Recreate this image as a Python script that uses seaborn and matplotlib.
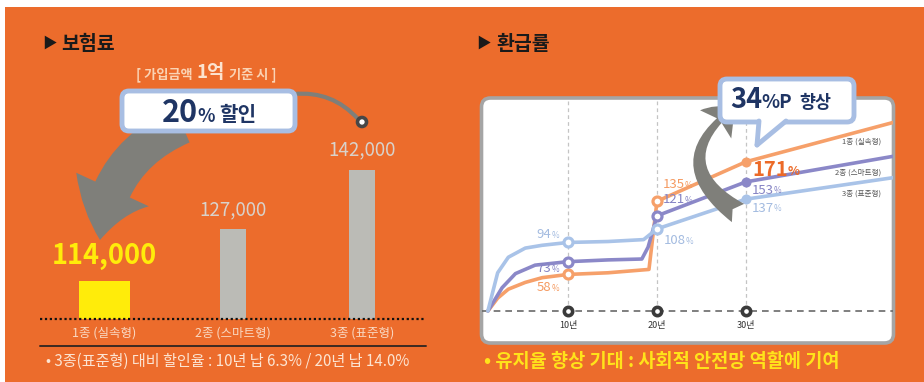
import matplotlib
matplotlib.use("Agg")
import matplotlib.pyplot as plt
from matplotlib.patches import FancyBboxPatch, FancyArrowPatch, Circle, Polygon, Rectangle
from matplotlib.lines import Line2D
from matplotlib.transforms import Affine2D
import numpy as np
import pandas as pd
import seaborn as sns

W, H = 924, 382

# ---- premium (보험료) ----
plan_names = ["1종 (실속형)", "2종 (스마트형)", "3종 (표준형)"]
premiums = [114000, 127000, 142000]

# ---- refund rate (환급률, %) by elapsed years ----
years_basic = [1.0, 2.1, 3.3, 5.2, 7.1, 10, 14.5, 19.1, 20, 30, 46.7]
refund_basic = [0, 26, 39, 48, 54, 58, 60, 64, 135, 171, 205]
years_smart = [1.0, 1.8, 2.6, 4.1, 6.3, 10, 14.5, 18.3, 19.0, 20, 30, 46.7]
refund_smart = [0, 24, 41, 59, 69, 73, 75, 76, 89, 121, 153, 176]
years_std = [1.0, 2.1, 3.3, 5.2, 7.1, 10, 14.5, 18.5, 20, 30, 46.7]
refund_std = [0, 60, 78, 88, 91, 94, 95, 97, 108, 137, 157]
marked_years = [10, 20, 30]
year_labels = ["10년", "20년", "30년"]

BG = "#EC6C2C"
YELLOW = "#FFEC0A"
BAR_GRAY = "#BBBBB6"
LINE_COLORS = ["#F6A06A", "#8B88C8", "#A9C3E8"]
LABEL_COLORS = ["#F59B62", "#8583C4", "#A3BBE0"]
NAVY = "#1F3564"
CALLOUT_EDGE = "#A8BEE3"
ARROW_GRAY = "#7F7F7A"

sns.set_theme(style="white")
plt.rcParams["font.family"] = ["Noto Sans CJK KR", "DejaVu Sans"]

fig = plt.figure(figsize=(W / 100, H / 100), dpi=100)
fig.patch.set_facecolor("white")
# pixel coordinates, origin at top-left
px = Affine2D().scale(1 / W, -1 / H).translate(0, 1) + fig.transFigure


def add(artist, z):
    artist.set_zorder(z)
    fig.add_artist(artist)
    return artist


def ftext(x, y, s, **kw):
    return fig.text(x, y, s, transform=px, **kw)


def axes_px(x0, y0, x1, y1):
    return fig.add_axes([x0 / W, 1 - y1 / H, (x1 - x0) / W, (y1 - y0) / H])


add(Rectangle((5, 7), W - 5, H - 7, transform=px, fc=BG, ec="none"), -10)

# ================= left panel: premiums =================
ftext(42, 44, "▶", fontsize=10.5, color="#1A1A1A", va="center")
ftext(61, 44, "보험료", fontsize=14, fontweight="bold", color="#1A1A1A", va="center")

ftext(193, 78, "[ 가입금액", fontsize=9.5, fontweight="bold", color="#FAD3B4", ha="right", va="baseline")
ftext(196, 78, "1억", fontsize=13.5, fontweight="bold", color="#FCE3CF", ha="left", va="baseline")
ftext(229, 78, "기준 시 ]", fontsize=9.5, fontweight="bold", color="#FAD3B4", ha="left", va="baseline")

axL = axes_px(40, 150, 426, 319)
axL.set_facecolor("none")
px_per_won = 3.98 / 1000
y_floor = 104500
prem_df = pd.DataFrame({"plan": plan_names, "premium": premiums})
sns.barplot(data=prem_df, x="plan", y="premium", hue="plan", order=plan_names,
            hue_order=plan_names, palette=[YELLOW, BAR_GRAY, BAR_GRAY],
            width=0.2, saturation=1, legend=False, ax=axL)
for bar in axL.patches:
    if abs(bar.get_height() - premiums[0]) < 1:
        cx = bar.get_x() + bar.get_width() / 2
        bar.set_width(0.4)
        bar.set_x(cx - 0.2)
    bar.set_edgecolor("none")
axL.set_xlim(-0.5, 2.5)
axL.set_ylim(y_floor, y_floor + (319 - 150) / px_per_won)
axL.axis("off")
axL.axhline(y_floor, color="#111111", lw=1.6, ls=(0, (1, 1.2)), clip_on=False)

for i, (name, v) in enumerate(zip(plan_names, premiums)):
    if i == 0:
        axL.annotate(f"{v:,}", (i, v), xytext=(0, 18), textcoords="offset points",
                     ha="center", va="center", fontsize=19.5, fontweight="bold",
                     color=YELLOW, annotation_clip=False)
    else:
        axL.annotate(f"{v:,}", (i, v), xytext=(0, 14.5), textcoords="offset points",
                     ha="center", va="center", fontsize=13.5, color="#D9D2CB",
                     annotation_clip=False)
    axL.annotate(name, (i, y_floor), xytext=(0, -10), textcoords="offset points",
                 ha="center", va="center", fontsize=9, color="#F9D8C2",
                 annotation_clip=False)

add(Line2D([40, 426], [346, 346], transform=px, color="#3A2A22", lw=1.4), 3)
ftext(46, 366, "• 3종(표준형) 대비 할인율 : 10년 납 6.3% / 20년 납 14.0%",
      fontsize=10.9, color="#FCE4D2", va="baseline")

# discount callout and arrow
add(FancyArrowPatch(posA=(182, 125), posB=(100, 240), transform=px,
                    arrowstyle="simple,head_length=52,head_width=80,tail_width=38",
                    connectionstyle="arc3,rad=0.3", mutation_scale=0.72,
                    shrinkA=0, shrinkB=0, fc=ARROW_GRAY, ec="none"), 5)
add(FancyArrowPatch(posA=(294, 94), posB=(358, 119), transform=px, arrowstyle="-",
                    connectionstyle="arc3,rad=-0.25", shrinkA=0, shrinkB=0,
                    color=ARROW_GRAY, lw=3), 5)
add(Circle((362, 122), 4.5, transform=px, fc="white", ec="#474747", lw=2.6), 6)
add(FancyBboxPatch((122, 91), 173, 40, boxstyle="round,pad=0,rounding_size=7",
                   transform=px, fc="white", ec=CALLOUT_EDGE, lw=3.5), 6)
ftext(198, 122, "20", fontsize=22, fontweight="heavy", color=NAVY, ha="right", va="baseline", zorder=7)
ftext(197, 122, "%", fontsize=13, fontweight="bold", color=NAVY, ha="left", va="baseline", zorder=7)
ftext(219, 121, "할인", fontsize=14.5, fontweight="bold", color=NAVY, ha="left", va="baseline", zorder=7)

# ================= right panel: refund rate =================
ftext(476, 44, "▶", fontsize=10.5, color="#1A1A1A", va="center")
ftext(496, 44, "환급률", fontsize=14, fontweight="bold", color="#1A1A1A", va="center")

add(FancyBboxPatch((481.5, 98), 412, 245, boxstyle="round,pad=0,rounding_size=9",
                   transform=px, fc="white", ec="#A5A5A5", lw=2.6), -5)

axR = axes_px(482, 99, 893, 342)
axR.set_facecolor("none")
refund_df = pd.concat([
    pd.DataFrame({"plan": plan_names[0], "year": years_basic, "rate": refund_basic}),
    pd.DataFrame({"plan": plan_names[1], "year": years_smart, "rate": refund_smart}),
    pd.DataFrame({"plan": plan_names[2], "year": years_std, "rate": refund_std}),
], ignore_index=True)


def power_fwd(v):
    v = np.asarray(v, dtype=float)
    return np.sign(v) * np.abs(v) ** 1.3


def power_inv(u):
    u = np.asarray(u, dtype=float)
    return np.sign(u) * np.abs(u) ** (1 / 1.3)


sns.lineplot(data=refund_df, x="year", y="rate", hue="plan", hue_order=plan_names,
             palette=LINE_COLORS, linewidth=2.6, estimator=None, sort=False,
             legend=False, ax=axR, zorder=2)
axR.set_yscale("function", functions=(power_fwd, power_inv))
X_LIM = (0.34, 46.52)
Y_LIM = (-51, 224)
axR.set_xlim(*X_LIM)
axR.set_ylim(*Y_LIM)
axR.axis("off")

axR.vlines(marked_years, 0, Y_LIM[1], color="#C4C4C4", lw=0.9, ls=(0, (3, 2.5)), zorder=1)
axR.axhline(0, color="#6A6A6A", lw=1.2, ls=(0, (4, 3)), zorder=1)

axR.scatter(marked_years, [0] * 3, s=36, fc="white", ec="#3A3A3A", lw=2.6, zorder=4,
            clip_on=False)
for yr, lab in zip(marked_years, year_labels):
    axR.annotate(lab, (yr, 0), xytext=(0, -10.5), textcoords="offset points",
                 ha="center", va="center", fontsize=6.5, color="#333333")

series = [(years_basic, refund_basic), (years_smart, refund_smart), (years_std, refund_std)]
# label offsets (points) next to the 10/20/30-year markers
label_offsets = [
    {10: (-6.5, -8.6, "right"), 20: (4, 12, "left"), 30: (4.3, -5.6, "left")},
    {10: (-6.5, -4.3, "right"), 20: (4, 11.5, "left"), 30: (4.3, -6.0, "left")},
    {10: (-6.5, 6.5, "right"), 20: (5, -8.6, "left"), 30: (4.3, -6.5, "left")},
]
end_offsets = [(-9.4, -14.4), (-9.4, -12.2), (-9.4, -11.5)]


def pct_label(ax, x, y, value, dx, dy, ha, color, size, weight="normal"):
    if ha == "left":
        num = ax.annotate(f"{value}", (x, y), xytext=(dx, dy), textcoords="offset points",
                          ha="left", va="center", fontsize=size, color=color,
                          fontweight=weight, zorder=6)
        ax.annotate("%", (1, 0.12), xycoords=num, ha="left", va="bottom",
                    fontsize=size * 0.62, color=color, fontweight=weight, zorder=6)
    else:
        pct = ax.annotate("%", (x, y), xytext=(dx, dy - size * 0.16), textcoords="offset points",
                          ha="right", va="center", fontsize=size * 0.62, color=color,
                          fontweight=weight, zorder=6)
        ax.annotate(f"{value}", (0, -0.1), xycoords=pct, ha="right", va="bottom",
                    fontsize=size, color=color, fontweight=weight, zorder=6)


for k, ((yrs, vals), col, lcol) in enumerate(zip(series, LINE_COLORS, LABEL_COLORS)):
    pts = [vals[yrs.index(yr)] for yr in marked_years]
    axR.scatter(marked_years[:2], pts[:2], s=42, fc="white", ec=col, lw=2.3, zorder=5)
    axR.scatter(marked_years[2:], pts[2:], s=52, color=col, lw=0, zorder=5)
    for yr, v in zip(marked_years, pts):
        dx, dy, ha = label_offsets[k][yr]
        if k == 0 and yr == 30:
            pct_label(axR, yr, v, v, dx, dy, ha, "#EC6A28", 14.5, "bold")
        else:
            pct_label(axR, yr, v, v, dx, dy, ha, lcol, 9.5)
    ex, ey = end_offsets[k]
    axR.annotate(plan_names[k], (yrs[-1], vals[-1]), xytext=(ex, ey),
                 textcoords="offset points", ha="right", va="center", fontsize=5.5,
                 color="#555555", annotation_clip=False)

# improvement callout and arrow
add(FancyArrowPatch(posA=(738, 213), posB=(735, 107), transform=px,
                    arrowstyle="fancy,head_length=26,head_width=42,tail_width=22",
                    connectionstyle="arc3,rad=-0.7", mutation_scale=0.72,
                    shrinkA=0, shrinkB=0, fc=ARROW_GRAY, ec="none"), 5)
add(FancyBboxPatch((720, 79), 134, 43, boxstyle="round,pad=0,rounding_size=7",
                   transform=px, fc="white", ec=CALLOUT_EDGE, lw=3.5), 6)
add(Polygon([(759, 119), (786, 119), (757, 145)], closed=True, transform=px,
            fc="white", ec="none"), 7)
add(Line2D([759, 757], [121, 145], transform=px, color=CALLOUT_EDGE, lw=3.5,
           solid_capstyle="round"), 7)
add(Line2D([786, 757], [121, 145], transform=px, color=CALLOUT_EDGE, lw=3.5,
           solid_capstyle="round"), 7)
ftext(762, 108, "34", fontsize=19.5, fontweight="heavy", color=NAVY, ha="right", va="baseline", zorder=8)
ftext(761, 108, "%P", fontsize=13.5, fontweight="bold", color=NAVY, ha="left", va="baseline", zorder=8)
ftext(799, 108, "향상", fontsize=12.5, fontweight="bold", color=NAVY, ha="left", va="baseline", zorder=8)

ftext(484, 367, "• 유지율 향상 기대 : 사회적 안전망 역할에 기여", fontsize=13.4,
      fontweight="bold", color="#FFE31A", va="baseline")

fig.savefig("out.png", dpi=100)
